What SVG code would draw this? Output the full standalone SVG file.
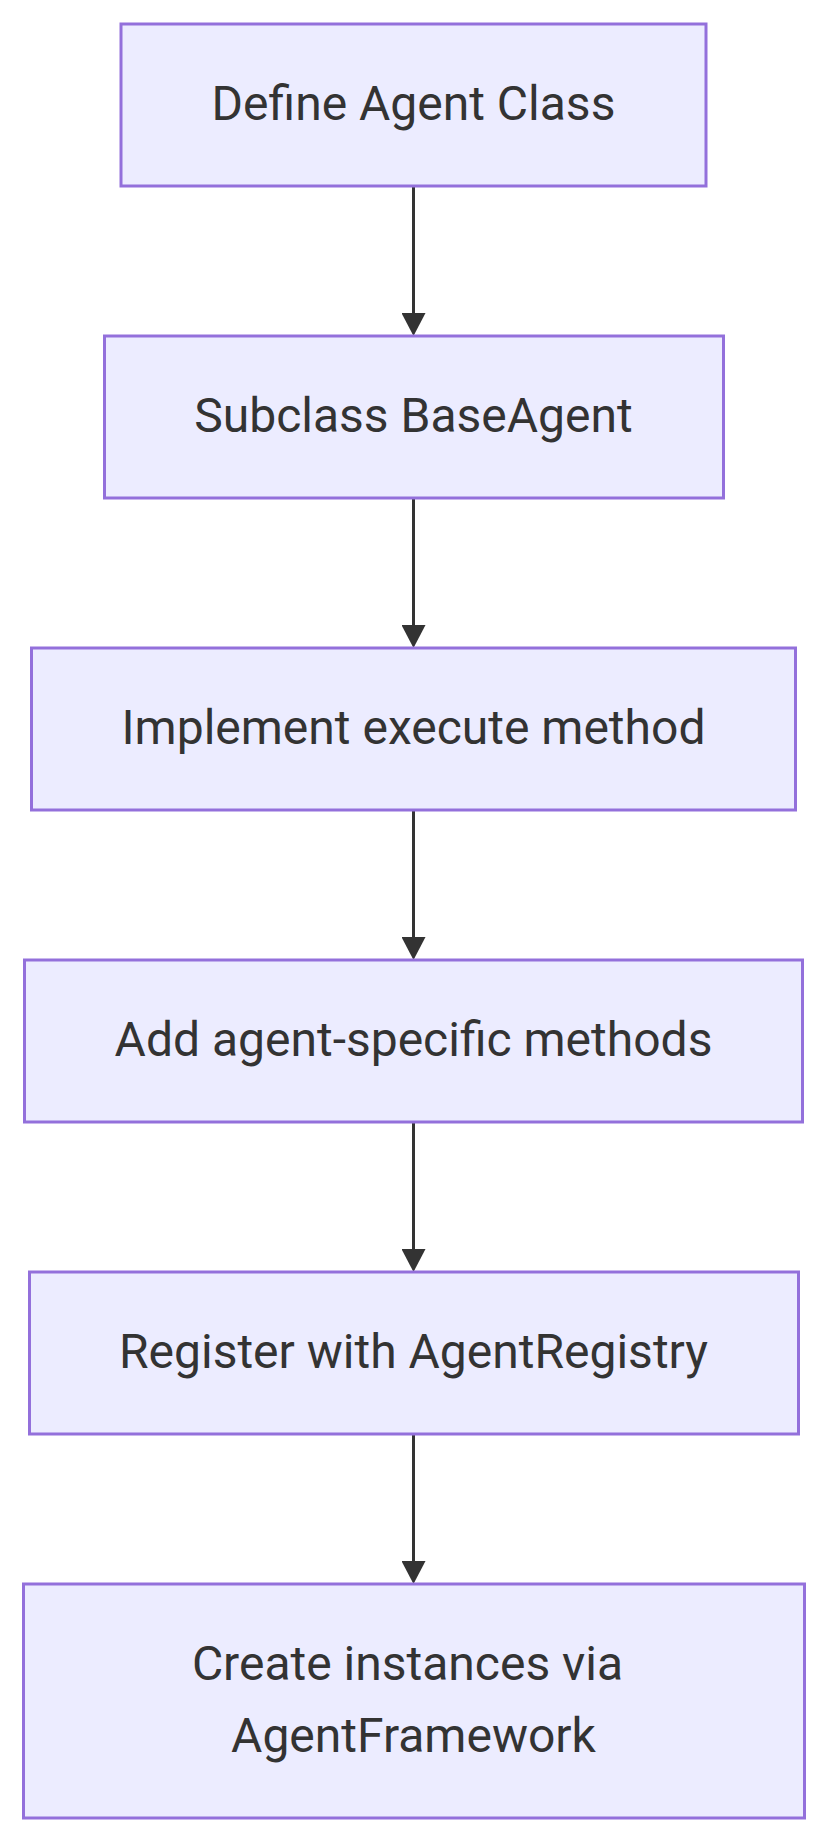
<svg xmlns="http://www.w3.org/2000/svg" width="828" height="1842" viewBox="0 0 828 1842">
<style>
.node rect{fill:#ECECFF;stroke:#9370DB;stroke-width:3}
.node text{font-family:Roboto,"Liberation Sans",sans-serif;font-size:48px;fill:#333333;text-anchor:middle}
.edge{stroke:#333333;stroke-width:3;fill:none;marker-end:url(#arrow)}
</style>
<defs>
<marker id="arrow" markerUnits="userSpaceOnUse" markerWidth="24" markerHeight="24" viewBox="0 0 23 24" refX="3" refY="12" orient="auto">
<path d="M0,0 L23,12 L0,24 z" fill="#333333"/>
</marker>
</defs>
<rect width="828" height="1842" fill="#ffffff"/>
<g id="connectors">
<line class="edge" x1="413.5" y1="186" x2="413.5" y2="316"/>
<line class="edge" x1="413.5" y1="498" x2="413.5" y2="628"/>
<line class="edge" x1="413.5" y1="810" x2="413.5" y2="940"/>
<line class="edge" x1="413.5" y1="1122" x2="413.5" y2="1252"/>
<line class="edge" x1="413.5" y1="1434" x2="413.5" y2="1564"/>
</g>
<g id="node1" class="node">
<rect x="121" y="24" width="585" height="162"/>
<text x="413.5" y="120">Define Agent Class</text>
</g>
<g id="node2" class="node">
<rect x="104.5" y="336" width="619" height="162"/>
<text x="413.5" y="432">Subclass BaseAgent</text>
</g>
<g id="node3" class="node">
<rect x="31.5" y="648" width="764" height="162"/>
<text x="413.5" y="744">Implement execute method</text>
</g>
<g id="node4" class="node">
<rect x="24.5" y="960" width="778" height="162"/>
<text x="413.5" y="1056">Add agent-specific methods</text>
</g>
<g id="node5" class="node">
<rect x="29.5" y="1272" width="769" height="162"/>
<text x="413.5" y="1368">Register with AgentRegistry</text>
</g>
<g id="node6" class="node">
<rect x="23.5" y="1584" width="781" height="234"/>
<text x="407.5" y="1680">Create instances via</text>
<text x="413.5" y="1752">AgentFramework</text>
</g>
</svg>
